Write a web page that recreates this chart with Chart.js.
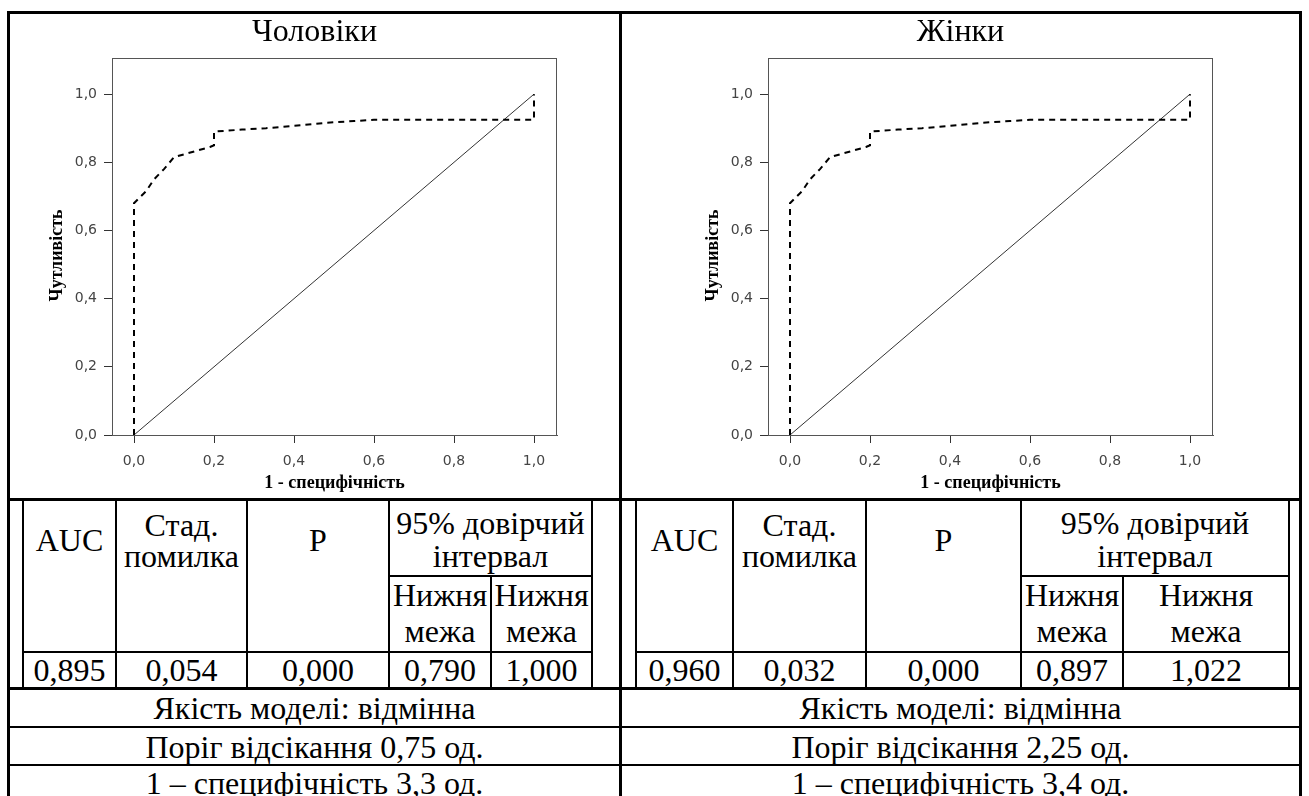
<!DOCTYPE html>
<html lang="uk">
<head>
<meta charset="utf-8">
<title>ROC-криві</title>
<script src="https://cdn.jsdelivr.net/npm/chart.js@4.4.1/dist/chart.umd.min.js"></script>
<style>
  html, body { margin: 0; padding: 0; background: #fff; }
  #page { position: relative; width: 1309px; height: 796px; overflow: hidden; background: #fff; }
  .ln { position: absolute; background: #000; }
  .tx { position: absolute; text-align: center; white-space: pre; color: #000;
        font-family: 'Liberation Serif', 'Times New Roman', serif; font-size: 32px; }
  canvas { position: absolute; }
</style>
</head>
<body>
<div id="page">
  <canvas id="menChart" width="608" height="457" style="left:10px;top:40px"></canvas>
  <canvas id="womenChart" width="608" height="457" style="left:666px;top:40px"></canvas>
</div>
<script>
// ---------------- data ----------------
const panelTitles = ['Чоловіки', 'Жінки'];

// ROC curve points (1 - specificity, sensitivity)
const menFpr = [0, 0, 0.03, 0.05, 0.075, 0.1, 0.19, 0.2, 0.2, 0.27, 0.33, 0.42, 0.48, 0.55, 0.6, 1.0, 1.0];
const menTpr = [0, 0.68, 0.715, 0.75, 0.78, 0.815, 0.845, 0.85, 0.89, 0.896, 0.90, 0.909, 0.916, 0.921, 0.925, 0.925, 1.0];
const womenFpr = [0, 0, 0.03, 0.05, 0.075, 0.1, 0.19, 0.2, 0.2, 0.27, 0.33, 0.42, 0.48, 0.55, 0.6, 1.0, 1.0];
const womenTpr = [0, 0.68, 0.715, 0.75, 0.78, 0.815, 0.845, 0.85, 0.89, 0.896, 0.90, 0.909, 0.916, 0.921, 0.925, 0.925, 1.0];

// reference diagonal
const diagX = [0, 1];
const diagY = [0, 1];

const axisTicks = [0, 0.2, 0.4, 0.6, 0.8, 1.0];
const axisTickLabels = ['0,0', '0,2', '0,4', '0,6', '0,8', '1,0'];
const xAxisTitle = '1 - специфічність';
const yAxisTitle = 'Чутливість';

// table
const headCells = ['AUC', 'Стад.\nпомилка', 'P'];
const ciHead = '95% довірчий\nінтервал';
const ciSub = ['Нижня\nмежа', 'Нижня\nмежа'];
const menStats = ['0,895', '0,054', '0,000', '0,790', '1,000'];
const womenStats = ['0,960', '0,032', '0,000', '0,897', '1,022'];
const menNotes = ['Якість моделі: відмінна', 'Поріг відсікання 0,75 од.', '1 – специфічність 3,3 од.'];
const womenNotes = ['Якість моделі: відмінна', 'Поріг відсікання 2,25 од.', '1 – специфічність 3,4 од.'];

// ---------------- chart ----------------
// frame round the plot area (top and right sides too)
const plotBoxPlugin = {
    id: 'plotBox',
    beforeDatasetsDraw: (chart) => {
        const ctx = chart.ctx;
        const a = chart.chartArea;
        ctx.save();
        ctx.strokeStyle = '#555';
        ctx.lineWidth = 1;
        const l = Math.round(a.left) + 0.5, t = Math.round(a.top) + 0.5;
        const r = Math.round(a.right) - 0.5, b = Math.round(a.bottom) + 0.5;
        ctx.strokeRect(l, t, r - l, b - t);
        ctx.restore();
    }
};

function makeRoc(canvasId, fpr, tpr) {
    const curve = fpr.map((v, i) => ({ x: v, y: tpr[i] }));
    const diag = diagX.map((v, i) => ({ x: v, y: diagY[i] }));
    const tickFont = { family: 'DejaVu Sans', size: 14 };
    const titleFont = { family: 'Liberation Serif', size: 18, weight: 'bold' };
    const tickLabel = (v) => axisTickLabels[axisTicks.findIndex(t => Math.abs(t - v) < 1e-6)];
    return new Chart(document.getElementById(canvasId).getContext('2d'), {
        type: 'scatter',
        data: {
            datasets: [
                {
                    data: curve,
                    showLine: true,
                    borderColor: '#000',
                    borderWidth: 2,
                    borderDash: [6, 5],
                    pointRadius: 0,
                    fill: false
                },
                {
                    data: diag,
                    showLine: true,
                    borderColor: '#333',
                    borderWidth: 1,
                    pointRadius: 0,
                    fill: false
                }
            ]
        },
        options: {
            responsive: false,
            animation: false,
            layout: { padding: { top: 18, right: 61, left: 0, bottom: 0 } },
            plugins: {
                legend: { display: false },
                tooltip: { enabled: false }
            },
            scales: {
                x: {
                    type: 'linear',
                    min: -0.055,
                    max: 1.0575,
                    afterBuildTicks: (s) => { s.ticks = axisTicks.map(v => ({ value: v })); },
                    afterFit: (s) => { s.height = 62; },
                    ticks: { font: tickFont, color: '#444', padding: 10, maxRotation: 0, callback: tickLabel },
                    grid: { drawOnChartArea: false, drawTicks: true, tickLength: 8, tickColor: '#333' },
                    border: { display: true, color: '#555', width: 1 },
                    title: { display: true, text: xAxisTitle, font: titleFont, color: '#000', padding: { top: 0, bottom: 3 } }
                },
                y: {
                    type: 'linear',
                    min: 0,
                    max: 1.106,
                    afterBuildTicks: (s) => { s.ticks = axisTicks.map(v => ({ value: v })); },
                    afterFit: (s) => { s.width = 102; },
                    ticks: { font: tickFont, color: '#444', padding: 7, callback: tickLabel },
                    grid: { drawOnChartArea: false, drawTicks: true, tickLength: 8, tickColor: '#333' },
                    border: { display: true, color: '#555', width: 1 },
                    // trailing spaces nudge the rotated title a little lower, as in the original
                    title: { display: true, text: yAxisTitle + '    ', font: titleFont, color: '#000', padding: { top: 37, bottom: 0 } }
                }
            }
        },
        plugins: [plotBoxPlugin]
    });
}

makeRoc('menChart', menFpr, menTpr);
makeRoc('womenChart', womenFpr, womenTpr);

// ---------------- table around the charts ----------------
const page = document.getElementById('page');

function line(x, y, w, h) {
    const d = document.createElement('div');
    d.className = 'ln';
    d.style.cssText = `left:${x}px;top:${y}px;width:${w}px;height:${h}px`;
    page.appendChild(d);
}
function text(str, x1, x2, cy, lh) {
    const n = str.split('\n').length;
    const d = document.createElement('div');
    d.className = 'tx';
    d.textContent = str;
    d.style.cssText = `left:${x1}px;width:${x2 - x1}px;top:${cy - n * lh / 2}px;line-height:${lh}px`;
    page.appendChild(d);
}

// outer frame
line(7, 11, 1295, 3);        // top
line(7, 11, 3, 800);         // left
line(1299, 11, 3, 800);      // right
line(619, 11, 3, 800);       // middle divider
line(7, 498, 1295, 3);       // under the charts
line(7, 687, 1295, 3);       // under the stats
line(7, 726, 1295, 2);
line(7, 764, 1295, 2);

const halves = [
    { x0: 9, x1: 620, cols: [23, 116, 247, 389, 491, 592], stats: menStats, notes: menNotes, title: panelTitles[0] },
    { x0: 621, x1: 1300, cols: [636, 733, 866, 1021, 1123, 1289], stats: womenStats, notes: womenNotes, title: panelTitles[1] }
];

halves.forEach(h => {
    const c = h.cols;
    text(h.title, h.x0, h.x1, 30, 36);

    // inner stats grid; the split between the two bounds starts below the CI header
    c.forEach((x, i) => {
        if (i === 4) line(x - 1, 576, 2, 112);
        else line(x - 1, 500, 2, 188);
    });
    line(c[3], 575, c[5] - c[3], 2);
    line(c[0], 651, c[5] - c[0], 2);

    text(headCells[0], c[0], c[1], 540, 33);
    text(headCells[1], c[1], c[2], 541, 31);
    text(headCells[2], c[2], c[3], 540, 33);
    text(ciHead, c[3], c[5], 540, 33);
    text(ciSub[0], c[3], c[4], 613, 36);
    text(ciSub[1], c[4], c[5], 613, 36);
    h.stats.forEach((s, i) => text(s, c[i], c[i + 1], 670, 36));

    text(h.notes[0], h.x0, h.x1, 708, 36);
    text(h.notes[1], h.x0, h.x1, 747, 36);
    text(h.notes[2], h.x0, h.x1, 783, 36);
});
</script>
</body>
</html>
